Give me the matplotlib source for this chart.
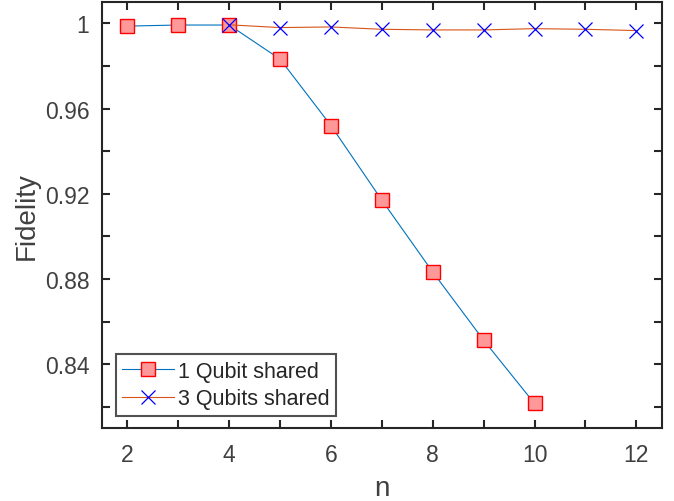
import matplotlib.pyplot as plt
import numpy as np

# data
n1 = [2, 3, 4, 5, 6, 7, 8, 9, 10]
fid1 = [0.9987, 0.9992, 0.9992, 0.9832, 0.952, 0.917, 0.8833, 0.8513, 0.8216]

n3 = [4, 5, 6, 7, 8, 9, 10, 11, 12]
fid3 = [0.9993, 0.998, 0.9983, 0.9972, 0.9969, 0.9969, 0.9975, 0.9972, 0.9966]

xticks = np.arange(2, 13, 1)
xlabels = [str(v) if v % 2 == 0 else '' for v in xticks]
yticks = np.round(np.arange(0.82, 1.001, 0.02), 2)
ylabels = [('%g' % v) if round(v * 100) % 4 == 0 else '' for v in yticks]

plt.rcParams['font.family'] = ['Liberation Sans', 'DejaVu Sans']

fig = plt.figure(figsize=(6.74, 5.02), dpi=100)
ax = fig.add_axes([0.1513, 0.145, 0.9818 - 0.1513, 0.994 - 0.145])

ax.plot(n1, fid1, color='#0072BD', lw=0.8, marker='s', markersize=10,
        markerfacecolor='#FF9999', markeredgecolor='#FF0000', markeredgewidth=1,
        label='1 Qubit shared')
ax.plot(n3, fid3, color='#D95319', lw=0.8, marker='x', markersize=10,
        markeredgecolor='#0000FF', markeredgewidth=0.9,
        label='3 Qubits shared')

ax.set_xlim(1.5, 12.5)
ax.set_ylim(0.81, 1.01)
ax.set_xticks(xticks)
ax.set_xticklabels(xlabels)
ax.set_yticks(yticks)
ax.set_yticklabels(ylabels)

ax.tick_params(direction='in', length=6, width=1.5, top=True, right=True,
               labelsize=16.5, colors='#262626', labelcolor='#404040')
ax.tick_params(axis='x', pad=11)
ax.tick_params(axis='y', pad=9)
for s in ax.spines.values():
    s.set_linewidth(1.5)
    s.set_color('#262626')

ax.set_xlabel('n', fontsize=20, color='#404040', labelpad=6)
ax.set_ylabel('Fidelity', fontsize=20, color='#404040', labelpad=4)

leg = ax.legend(loc='lower left', bbox_to_anchor=(0.0245, 0.0296), fontsize=15.5,
                frameon=True, fancybox=False, edgecolor='#262626',
                borderpad=0.3, labelspacing=0.3, handlelength=2.4,
                handletextpad=0.2, borderaxespad=0)
leg.get_frame().set_linewidth(1.5)
for t in leg.get_texts():
    t.set_color('#262626')

fig.savefig('out.png', dpi=100)
